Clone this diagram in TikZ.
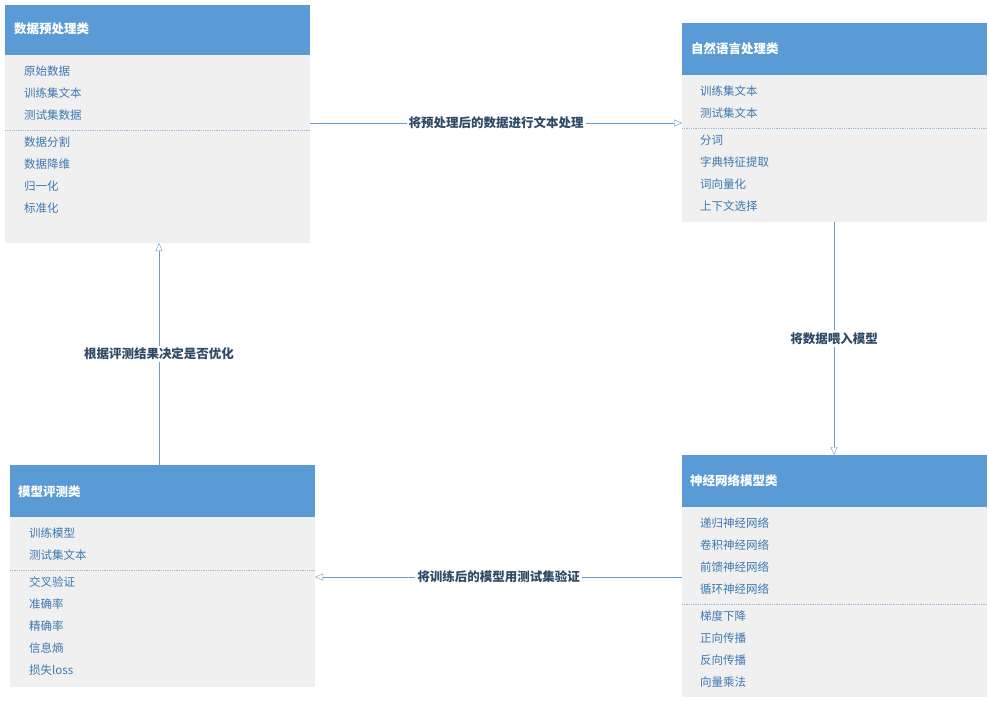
\documentclass[tikz,border=0pt]{standalone}
\usepackage{fontspec}
\newfontfamily\cjk{Noto Sans CJK SC}
\usetikzlibrary{arrows.meta}
\definecolor{hdblue}{HTML}{5B9BD5}
\definecolor{bodygray}{HTML}{F0F0F0}
\definecolor{itemblue}{HTML}{3C78B4}
\definecolor{labnavy}{HTML}{2E4A66}
\definecolor{linkblue}{HTML}{6A9CCB}
\tikzset{
  hd/.style={fill=hdblue,text=white,anchor=north west,inner sep=0pt,font=\cjk\bfseries\fontsize{12.5}{14}\selectfont},
  item/.style={anchor=west,text=itemblue,inner sep=0pt,font=\cjk\fontsize{11.5}{13}\selectfont},
  sep/.style={draw=linkblue!70,densely dotted,thick},
  link/.style={draw=linkblue,-{Triangle[open,length=8pt,width=7pt]}},
  lab/.style={fill=white,text=labnavy,inner sep=2pt,font=\cjk\bfseries\fontsize{12.5}{14}\selectfont}
}
\begin{document}
\begin{tikzpicture}[x=1pt,y=-1pt]
  \useasboundingbox (0,0) rectangle (989,701);
  % data preprocessing
  \fill[bodygray] (5,55) rectangle (310,243);
  \fill[hdblue] (5,5) rectangle (310,55);
  \node[hd,anchor=west] (pre) at (14,29) {数据预处理类};
  \foreach \t [count=\i] in {原始数据,训练集文本,测试集数据}
    \node[item] at (24,49+22*\i) {\t};
  \draw[sep] (5,130) -- (310,130);
  \foreach \t [count=\i] in {数据分割,数据降维,归一化,标准化}
    \node[item] at (24,120+22*\i) {\t};
  \coordinate (preE) at (310,123);
  \coordinate (preS) at (159,243);
  % NLP
  \fill[bodygray] (682,75) rectangle (987,222);
  \fill[hdblue] (682,23) rectangle (987,75);
  \node[hd,anchor=west] (nlp) at (691,49) {自然语言处理类};
  \foreach \t [count=\i] in {训练集文本,测试集文本}
    \node[item] at (700,69+22*\i) {\t};
  \draw[sep] (682,128) -- (987,128);
  \foreach \t [count=\i] in {分词,字典特征提取,词向量化,上下文选择}
    \node[item] at (700,118+22*\i) {\t};
  \coordinate (nlpW) at (682,123);
  \coordinate (nlpS) at (834,222);
  % evaluation
  \fill[bodygray] (10,517) rectangle (315,687);
  \fill[hdblue] (10,465) rectangle (315,517);
  \node[hd,anchor=west] (eva) at (18,492) {模型评测类};
  \foreach \t [count=\i] in {训练模型,测试集文本}
    \node[item] at (29,511+22*\i) {\t};
  \draw[sep] (10,570) -- (315,570);
  \foreach \t [count=\i] in {交叉验证,准确率,精确率,信息熵,损失loss}
    \node[item] at (29,560+22*\i) {\t};
  \coordinate (evaE) at (315,577);
  \coordinate (evaN) at (159,465);
  % neural network
  \fill[bodygray] (682,507) rectangle (987,697);
  \fill[hdblue] (682,455) rectangle (987,507);
  \node[hd,anchor=west] (nn) at (690,481) {神经网络模型类};
  \foreach \t [count=\i] in {递归神经网络,卷积神经网络,前馈神经网络,循环神经网络}
    \node[item] at (700,501+22*\i) {\t};
  \draw[sep] (682,604) -- (987,604);
  \foreach \t [count=\i] in {梯度下降,正向传播,反向传播,向量乘法}
    \node[item] at (700,594+22*\i) {\t};
  \coordinate (nnN) at (834,455);
  \coordinate (nnW) at (682,577);
  % connectors
  \draw[link] (preE) -- node[lab] {将预处理后的数据进行文本处理} (nlpW);
  \draw[link] (nlpS) -- node[lab] {将数据喂入模型} (nnN);
  \draw[link] (nnW) -- node[lab] {将训练后的模型用测试集验证} (evaE);
  \draw[link] (evaN) -- node[lab] {根据评测结果决定是否优化} (preS);
\end{tikzpicture}
\end{document}
